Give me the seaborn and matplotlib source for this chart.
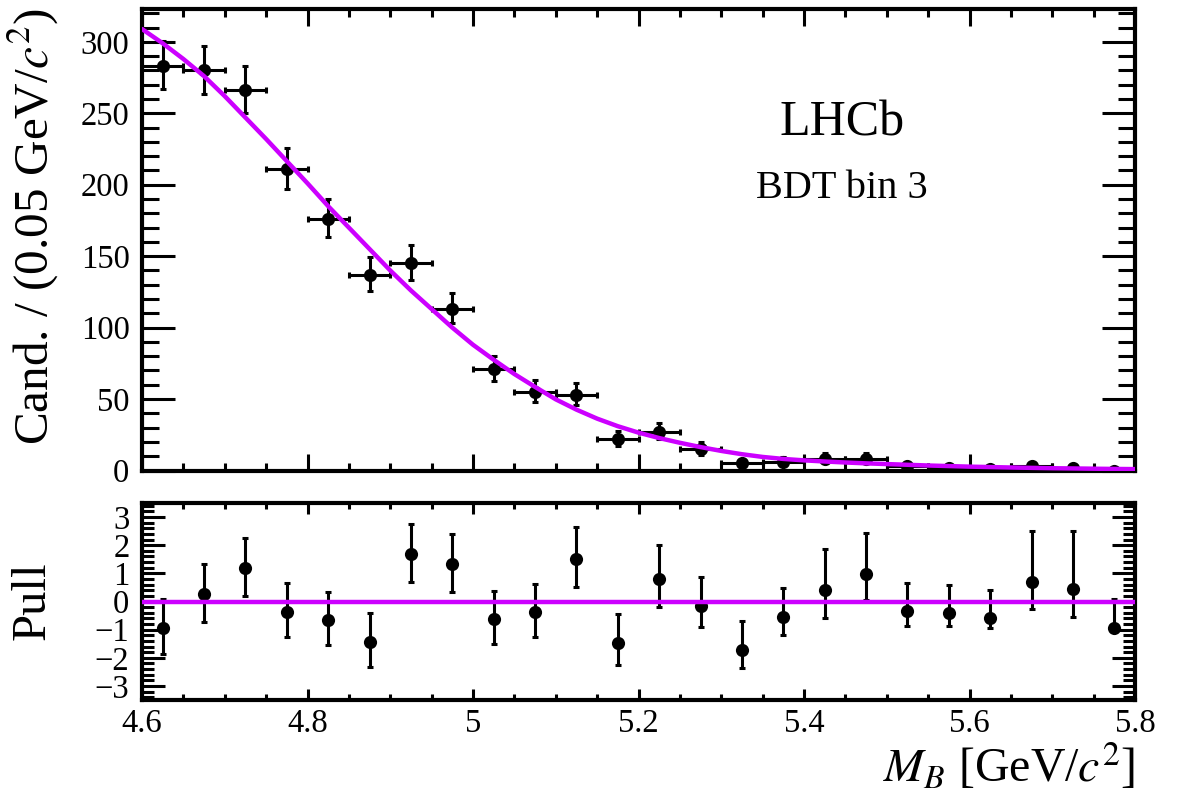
import numpy as np
import pandas as pd
import matplotlib.pyplot as plt
from matplotlib.ticker import MultipleLocator, FuncFormatter
import seaborn as sns

sns.set_theme(style='white')
plt.rcParams['font.family'] = ['Liberation Serif', 'DejaVu Serif']
plt.rcParams['mathtext.fontset'] = 'stix'
plt.rcParams['text.color'] = 'black'
plt.rcParams['xtick.color'] = 'black'
plt.rcParams['ytick.color'] = 'black'
plt.rcParams['axes.labelcolor'] = 'black'

# data
bin_centres = [4.625, 4.675, 4.725, 4.775, 4.825, 4.875, 4.925, 4.975,
               5.025, 5.075, 5.125, 5.175, 5.225, 5.275, 5.325, 5.375,
               5.425, 5.475, 5.525, 5.575, 5.625, 5.675, 5.725, 5.775]
bin_half = 0.025
counts = [283, 280, 266, 211, 176, 137, 145, 113, 71, 55, 53, 22,
          27, 15, 5, 6, 8, 8, 3, 2, 1, 3, 2, 0]
err_lo = [16.3, 16.2, 15.8, 14.0, 12.8, 11.2, 11.5, 10.1, 8.4, 7.4, 7.3, 4.66,
          5.18, 3.83, 2.16, 2.38, 2.76, 2.76, 1.63, 1.29, 0.83, 1.63, 1.29, 0.0]
err_hi = [17.3, 17.2, 16.8, 15.0, 13.8, 12.2, 12.5, 11.1, 9.4, 8.4, 8.3, 5.76,
          6.25, 4.95, 3.38, 3.58, 3.94, 3.94, 2.92, 2.64, 2.30, 2.92, 2.64, 1.84]

fit_x = [4.600, 4.625, 4.650, 4.675, 4.700, 4.725, 4.750, 4.775, 4.800, 4.825,
         4.850, 4.875, 4.900, 4.925, 4.950, 4.975, 5.000, 5.025, 5.050, 5.075,
         5.100, 5.125, 5.150, 5.175, 5.200, 5.225, 5.250, 5.275, 5.300, 5.325,
         5.350, 5.375, 5.400, 5.425, 5.450, 5.475, 5.500, 5.525, 5.550, 5.575,
         5.600, 5.625, 5.650, 5.675, 5.700, 5.725, 5.750, 5.775, 5.800]
fit_y = [309, 299, 288, 276, 262, 247, 232, 216.5, 201, 185,
         170, 155, 140, 126, 113, 100, 88, 77.5, 67.5, 58.5,
         49.8, 42.6, 36.3, 31.0, 26.5, 22.7, 19.4, 16.4, 13.7, 11.4,
         9.5, 8.1, 7.1, 6.3, 5.6, 5.0, 4.5, 4.0, 3.5, 3.1,
         2.7, 2.4, 2.1, 1.84, 1.6, 1.43, 1.25, 1.1, 0.97]

pull = [-0.93, 0.26, 1.19, -0.37, -0.67, -1.44, 1.69, 1.33, -0.63, -0.39, 1.51, -1.48,
        0.81, -0.15, -1.72, -0.54, 0.42, 0.99, -0.33, -0.41, -0.59, 0.71, 0.44, -0.95]
pull_lo = [0.93, 1.00, 0.99, 0.90, 0.89, 0.89, 1.00, 1.01, 0.88, 0.86, 0.99, 0.79,
           1.01, 0.74, 0.64, 0.66, 0.99, 0.94, 0.55, 0.46, 0.36, 0.98, 0.98, 0.0]
pull_hi = [1.01, 1.06, 1.05, 1.02, 1.02, 1.02, 1.06, 1.08, 1.01, 1.00, 1.14, 1.02,
           1.20, 1.02, 1.04, 1.02, 1.44, 1.44, 1.00, 1.01, 1.00, 1.78, 2.05, 1.04]

data = pd.DataFrame({'mass': bin_centres, 'cand': counts, 'pull': pull})
fit = pd.DataFrame({'mass': fit_x, 'cand': fit_y})

curve_col = '#cc00ff'
W, H = 1182, 800
fig = plt.figure(figsize=(W / 100, H / 100), dpi=100)
fig.patch.set_facecolor('white')

ax = fig.add_axes([142 / W, 1 - 470.5 / H, 993 / W, 461.5 / H])
axp = fig.add_axes([142 / W, 1 - 700 / H, 993 / W, 197 / H])

# main panel
ax.errorbar(data['mass'], data['cand'], yerr=[err_lo, err_hi], xerr=bin_half,
            fmt='none', ecolor='black', elinewidth=2.2, capsize=2.5, capthick=2.2, zorder=2)
sns.scatterplot(data=data, x='mass', y='cand', ax=ax, color='black', s=90,
                edgecolor='black', linewidth=0, zorder=3)
sns.lineplot(data=fit, x='mass', y='cand', ax=ax, color=curve_col, lw=3.2, zorder=4)

ax.set_xlim(4.6, 5.8)
ax.set_ylim(0, 323)
ax.xaxis.set_major_locator(MultipleLocator(0.2))
ax.xaxis.set_minor_locator(MultipleLocator(0.05))
ax.yaxis.set_major_locator(MultipleLocator(50))
ax.yaxis.set_minor_locator(MultipleLocator(10))
ax.tick_params(axis='x', which='major', direction='in', top=True, bottom=True,
               length=12, width=2.2, labelbottom=False)
ax.tick_params(axis='x', which='minor', direction='in', top=True, bottom=True,
               length=5.5, width=2.2)
ax.tick_params(axis='y', which='major', direction='in', left=True, right=True,
               length=24, width=2.2, labelsize=23.5, pad=9)
ax.tick_params(axis='y', which='minor', direction='in', left=True, right=True,
               length=12, width=2.2)
ax.set_xlabel('')
ax.set_ylabel('')

ax.text(0.705, 0.752, 'LHCb', transform=ax.transAxes, ha='center', va='center', fontsize=36)
ax.text(0.705, 0.612, 'BDT bin 3', transform=ax.transAxes, ha='center', va='center', fontsize=29)

# pull panel
axp.errorbar(data['mass'], data['pull'], yerr=[pull_lo, pull_hi], fmt='none',
             ecolor='black', elinewidth=2.2, capsize=2.5, capthick=2.2, zorder=2)
sns.scatterplot(data=data, x='mass', y='pull', ax=axp, color='black', s=90,
                edgecolor='black', linewidth=0, zorder=3)
axp.axhline(0, color=curve_col, lw=3.2, zorder=4)

axp.set_xlim(4.6, 5.8)
axp.set_ylim(-3.5, 3.5)
axp.xaxis.set_major_locator(MultipleLocator(0.2))
axp.xaxis.set_minor_locator(MultipleLocator(0.05))
axp.yaxis.set_major_locator(MultipleLocator(1))
axp.yaxis.set_minor_locator(MultipleLocator(0.2))
axp.xaxis.set_major_formatter(FuncFormatter(lambda v, p: '%g' % round(v, 2)))
axp.tick_params(axis='x', which='major', direction='in', top=True, bottom=True,
                length=8, width=2.2, labelsize=23.5, pad=6)
axp.tick_params(axis='x', which='minor', direction='in', top=True, bottom=True,
                length=4, width=2.2)
axp.tick_params(axis='y', which='major', direction='in', left=True, right=True,
                length=16.5, width=2.2, labelsize=23.5, pad=9)
axp.tick_params(axis='y', which='minor', direction='in', left=True, right=True,
                length=8.5, width=2.2)
axp.set_xlabel('')
axp.set_ylabel('')

for a in (ax, axp):
    for sp in a.spines.values():
        sp.set_linewidth(3)
        sp.set_color('black')

fig.text(33 / W, 1 - 8 / H, 'Cand. / (0.05 GeV/$c^2$)', rotation=90,
         ha='center', va='top', fontsize=35.5)
fig.text(33 / W, 1 - 601 / H, 'Pull', rotation=90, ha='center', va='center', fontsize=35)
fig.text(1135 / W, 1 - 782 / H, '$M_B$ [GeV/$c^2$]', ha='right', va='baseline', fontsize=34.5)

fig.savefig('out.png', dpi=100)
